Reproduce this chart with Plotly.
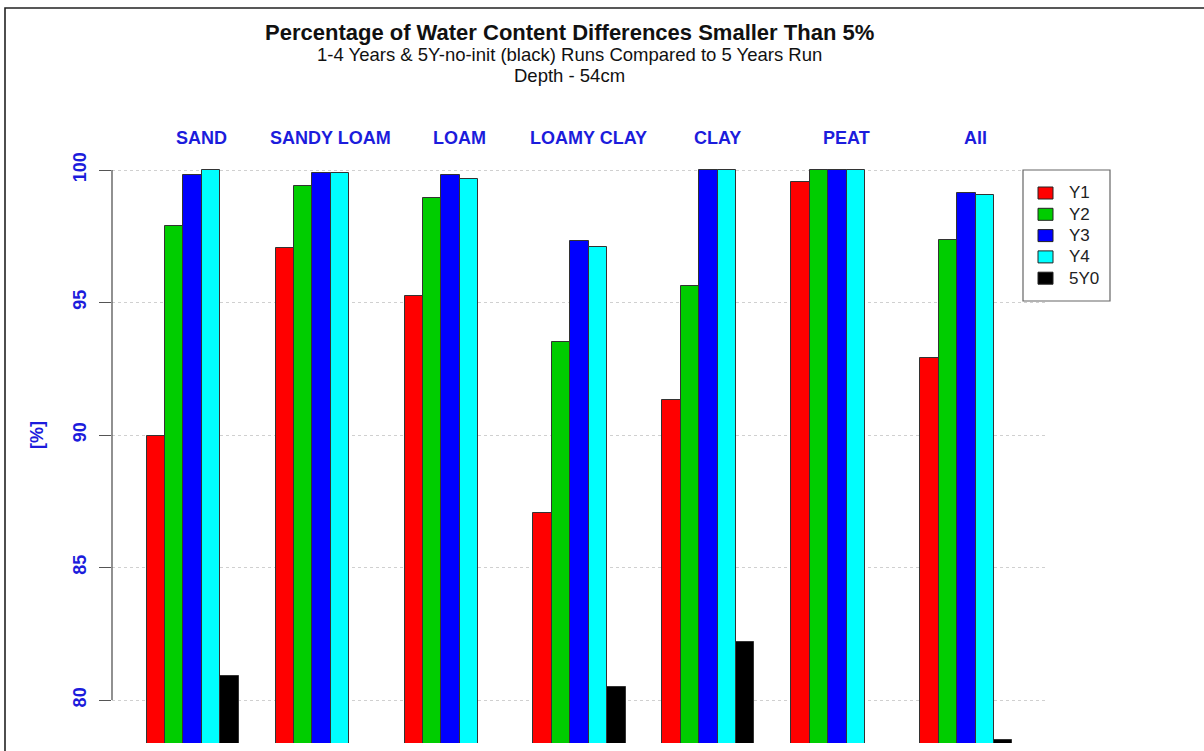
import plotly.graph_objects as go

# Soil classes (groups of bars)
soils = ["SAND", "SANDY LOAM", "LOAM", "LOAMY CLAY", "CLAY", "PEAT", "All"]

# Percentage of water content differences < 5% for each run
y1 = [89.98, 97.07, 95.25, 87.07, 91.33, 99.55, 92.92]
y2 = [97.89, 99.40, 98.96, 93.50, 95.62, 100.0, 97.36]
y3 = [99.82, 99.90, 99.80, 97.32, 100.0, 100.0, 99.14]
y4 = [100.0, 99.90, 99.65, 97.09, 100.0, 100.0, 99.06]
y5_noinit = [80.91, None, None, 80.50, 82.18, None, 78.49]

series_names = ["Y1", "Y2", "Y3", "Y4", "5Y0"]
series_values = [y1, y2, y3, y4, y5_noinit]
series_colors = ["#ff0000", "#00cd00", "#0000ff", "#00ffff", "#000000"]

# barplot-like layout: 5 bars of width 1 per group, gap of 2 between groups
BARS_PER_GROUP = 5
GAP = 2
PERIOD = BARS_PER_GROUP + GAP

label_blue = "#1c1cdc"
font_family = "Liberation Sans, Arial, Helvetica, sans-serif"

# plot region in pixels (used to place elements living in the margins)
L, R, T, B = 112, 1047, 148, 743


def px_x(px):
    return (px - L) / (R - L)


def px_y(py):
    return (B - py) / (B - T)


fig = go.Figure()
for k, (name, vals, col) in enumerate(zip(series_names, series_values, series_colors)):
    xs = [g * PERIOD + k + 0.5 for g in range(len(soils))]
    fig.add_trace(go.Bar(
        x=xs, y=vals, width=1.0, name=name,
        base=0, showlegend=False,
        marker=dict(color=col, line=dict(color="#333333", width=1)),
    ))

# Soil class labels above each group
for g, soil in enumerate(soils):
    fig.add_annotation(
        x=g * PERIOD + 3.0, y=px_y(138), xref="x", yref="paper",
        text=f"<b>{soil}</b>", showarrow=False,
        font=dict(size=18, color=label_blue, family=font_family),
        yanchor="middle", xanchor="center",
    )

# Titles
title_x = px_x(569)
fig.add_annotation(x=title_x, y=px_y(32), xref="paper", yref="paper",
                   text="<b>Percentage of Water Content Differences Smaller Than 5%</b>",
                   showarrow=False, font=dict(size=22, color="#111111", family=font_family),
                   yanchor="middle", xanchor="center")
fig.add_annotation(x=title_x, y=px_y(55), xref="paper", yref="paper",
                   text="1-4 Years & 5Y-no-init (black) Runs Compared to 5 Years Run",
                   showarrow=False, font=dict(size=18.5, color="#111111", family=font_family),
                   yanchor="middle", xanchor="center")
fig.add_annotation(x=title_x, y=px_y(76), xref="paper", yref="paper",
                   text="Depth - 54cm",
                   showarrow=False, font=dict(size=18.5, color="#111111", family=font_family),
                   yanchor="middle", xanchor="center")

# Y-axis title
fig.add_annotation(x=px_x(37), y=90, xref="paper", yref="y",
                   text="<b>[%]</b>", textangle=-90, showarrow=False,
                   xanchor="center", yanchor="middle",
                   font=dict(size=18, color=label_blue, family=font_family))

# Y-axis line only across the tick range
fig.add_shape(type="line", xref="paper", yref="y", x0=0, x1=0, y0=80, y1=100,
              line=dict(color="#555555", width=1.3))

# Legend box with filled squares
fig.add_shape(type="rect", xref="paper", yref="paper",
              x0=px_x(1023), x1=px_x(1110), y0=px_y(301), y1=px_y(170),
              line=dict(color="#666666", width=1.2), fillcolor="white", layer="above")
for i, (name, col) in enumerate(zip(series_names, series_colors)):
    cy = 193 + i * 21.3
    fig.add_shape(type="rect", xref="paper", yref="paper",
                  x0=px_x(1038), x1=px_x(1053), y0=px_y(cy + 6), y1=px_y(cy - 6),
                  line=dict(color="#222222", width=1), fillcolor=col, layer="above")
    fig.add_annotation(x=px_x(1067), y=px_y(cy), xref="paper", yref="paper",
                       text=name, showarrow=False, xanchor="left", yanchor="middle",
                       font=dict(size=17, color="#222222", family=font_family))

# Outer frame
fig.add_shape(type="rect", xref="paper", yref="paper",
              x0=px_x(5), x1=px_x(1215), y0=px_y(760), y1=px_y(8),
              line=dict(color="#222222", width=1.6), layer="above")

y_bottom = 78.38
y_top = 100.83
fig.update_layout(
    width=1204, height=751,
    margin=dict(l=L, r=1204 - R, t=T, b=751 - B),
    paper_bgcolor="white", plot_bgcolor="white",
    barmode="overlay",
    bargap=0,
    showlegend=False,
    xaxis=dict(range=[-1.88, 48.88], showticklabels=False, showgrid=False,
               zeroline=False, showline=False, ticks=""),
    yaxis=dict(range=[y_bottom, y_top], tickvals=[80, 85, 90, 95, 100],
               ticktext=["<b>80</b>", "<b>85</b>", "<b>90</b>", "<b>95</b>", "<b>100</b>"],
               tickangle=-90, ticks="outside", ticklen=12, tickcolor="#555555",
               tickwidth=1.3, ticklabelstandoff=6,
               tickfont=dict(size=18, color=label_blue, family=font_family),
               showgrid=True, gridcolor="#d0d0d0", griddash="dot", gridwidth=1,
               zeroline=False, showline=False),
    font=dict(family=font_family),
)

fig.write_html("out.html")
